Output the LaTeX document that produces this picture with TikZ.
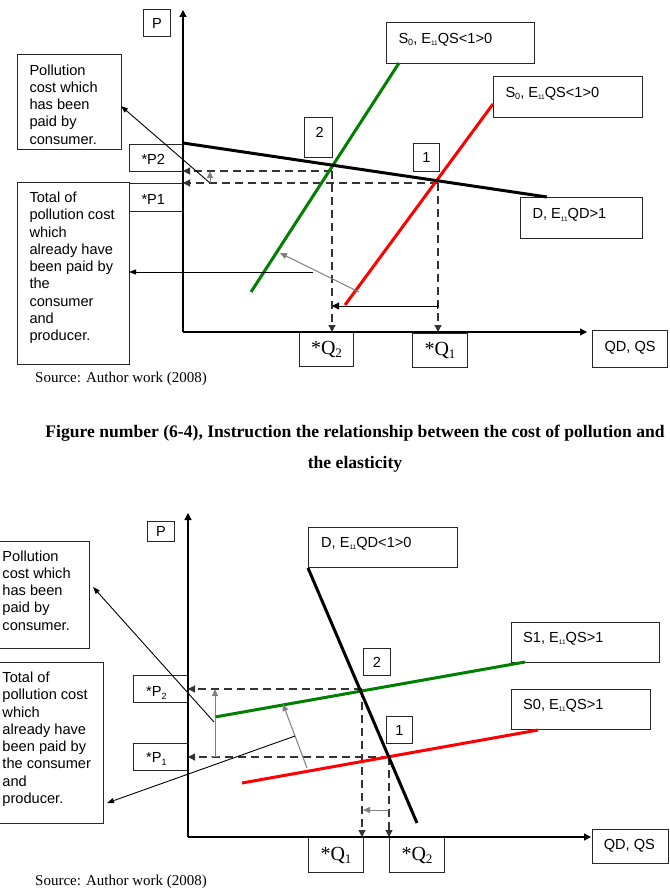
\documentclass[tikz,border=0pt]{standalone}
\usepackage{fontspec}
\setmainfont{Liberation Serif}
\setsansfont{Liberation Sans}
\usetikzlibrary{arrows.meta}
\definecolor{sgreen}{RGB}{0,128,0}
\definecolor{sred}{RGB}{255,0,0}
% box text: width, height, left inset, top pad, text
\newcommand{\bxt}[5]{\parbox[c][#2][t]{#1}{\fontsize{14.6}{17.3}\selectfont\raggedright\leftskip=#3\relax\vspace*{#4}#5\par}}
\newcommand{\sbs}[1]{\raisebox{-0.35ex}{\fontsize{6.5}{6.5}\selectfont #1}}
\newcommand{\sbz}[1]{\raisebox{-0.35ex}{\fontsize{9}{9}\selectfont #1}}
\newcommand{\qlab}[1]{{\rmfamily\fontsize{20}{20}\selectfont *Q\raisebox{-0.35ex}{\fontsize{13}{13}\selectfont #1}}}
\begin{document}
\begin{tikzpicture}[x=1pt,y=-1pt,
  font=\sffamily\fontsize{14.6}{17.3}\selectfont,
  bx/.style={draw=black!85, line width=1pt, inner sep=0pt, anchor=north west},
  cbx/.style={bx, align=center},
  axisline/.style={line width=1.3pt, -{Triangle[length=7pt,width=7pt]}},
  curve/.style={line width=3pt},
  dsh/.style={draw=black!80, line width=1.2pt, dash pattern=on 8pt off 5pt, -{Triangle[length=7pt,width=7pt]}},
  ptr/.style={line width=0.9pt, -{Triangle[length=7pt,width=5pt]}},
  gptr/.style={draw=gray, line width=1pt, -{Triangle[length=7pt,width=6pt]}},
  srcfont/.style={font=\rmfamily\fontsize{15}{18}\selectfont},
  ]
\fill[white] (0,0) rectangle (669,888);
\clip (0,0) rectangle (669,888);

% ================= TOP DIAGRAM =================
\node[cbx, minimum width=27pt, minimum height=27pt] (pt1) at (143,9) {P};
\node[bx] (pol1) at (17,54) {\bxt{104pt}{95pt}{12pt}{10pt}{Pollution\\cost which\\has been\\paid by\\consumer.}};
\node[bx] (p2t) at (129,144) {\bxt{54pt}{27pt}{12pt}{10pt}{*P2}};
\node[bx] (p1t) at (129,183) {\bxt{54pt}{28pt}{12pt}{11pt}{*P1}};
\node[bx] (tot1) at (17,182) {\bxt{112pt}{182pt}{12pt}{9.4pt}{Total of\\pollution cost\\which\\already have\\been paid by\\the\\consumer\\and\\producer.}};
\node[bx] (n2t) at (304,117) {\bxt{28pt}{40pt}{11pt}{10pt}{2}};
\node[cbx, minimum width=26pt, minimum height=28pt] (n1t) at (413,143) {1};
\node[bx] (sgt) at (386,22) {\bxt{148pt}{41pt}{12pt}{10.5pt}{S\sbz{0}, E\sbs{11}QS<1>0}};
\node[bx] (srt) at (493,76) {\bxt{149pt}{41pt}{12pt}{10.5pt}{S\sbz{0}, E\sbs{11}QS<1>0}};
\node[bx] (dt) at (520,197) {\bxt{122pt}{41pt}{12pt}{11pt}{D, E\sbs{11}QD>1}};
\node[bx] (qdt) at (592,330) {\bxt{75pt}{37pt}{12pt}{10.5pt}{QD, QS}};
\node[cbx, minimum width=54pt, minimum height=34pt] (q2t) at (299,332) {\qlab{2}};
\node[cbx, minimum width=55pt, minimum height=34pt] (q1t) at (412,333) {\qlab{1}};

\coordinate (O1) at (183,332);
\coordinate (Y1) at (183,10);
\coordinate (X1) at (587,332);
\coordinate (D1a) at (183,143);
\coordinate (D1b) at (547,197);
\coordinate (G1a) at (251,292);
\coordinate (G1b) at (399,63);
\coordinate (R1a) at (345,305);
\coordinate (R1b) at (493,104);
\coordinate (E2t) at (332,171);
\coordinate (E1t) at (438,183);
\coordinate (P2a) at (183,171);
\coordinate (P1a) at (183,183);
\coordinate (Q2a) at (332,332);
\coordinate (Q1a) at (438,332);
\coordinate (HA) at (438,306);
\coordinate (HB) at (332,306);
\coordinate (GA) at (359,292);
\coordinate (GB) at (280,253);
\coordinate (TA) at (313,272);
\coordinate (TB) at (129,272);
\coordinate (PA) at (210,183);
\coordinate (PB) at (121,106);
\coordinate (SA) at (210,171);

\draw[dsh] (E2t) -- (P2a);
\draw[dsh] (E2t) -- (Q2a);
\draw[dsh] (E1t) -- (P1a);
\draw[dsh] (E1t) -- (Q1a);
\draw[axisline] (O1) -- (Y1);
\draw[axisline] (O1) -- (X1);
\draw[curve, sgreen] (G1a) -- (G1b);
\draw[curve, sred] (R1a) -- (R1b);
\draw[curve, black] (D1a) -- (D1b);
\draw[line width=1pt, {Bar[width=6pt]}-{Triangle[length=7pt,width=7pt]}] (HA) -- (HB);
\draw[gptr] (GA) -- (GB);
\draw[ptr] (TA) -- (TB);
\draw[ptr] (PA) -- (PB);
\draw[gptr] (PA) -- (SA);

\node[srcfont, anchor=base west, inner sep=0pt] (src1) at (35,382) {Source: Author work (2008)};
\node[anchor=north, align=center, inner sep=0pt, font=\rmfamily\bfseries\fontsize{17.6}{31}\selectfont] (cap) at (355,425) {Figure number (6-4), Instruction the relationship between the cost of pollution and\\the elasticity};

% ================= BOTTOM DIAGRAM =================
\node[cbx, minimum width=27pt, minimum height=20pt] (pt2) at (147,521) {P};
\node[bx] (pol2) at (-10,541) {\bxt{99pt}{107pt}{12pt}{9pt}{Pollution\\cost which\\has been\\paid by\\consumer.}};
\node[bx] (tot2) at (-10,662) {\bxt{113pt}{161pt}{12pt}{9.4pt}{Total of\\pollution cost\\which\\already have\\been paid by\\the consumer\\and\\producer.}};
\node[bx] (p2b) at (133,675) {\bxt{55pt}{27pt}{12.7pt}{11pt}{*P\sbz{2}}};
\node[bx] (p1b) at (133,743) {\bxt{55pt}{27pt}{12.7pt}{9pt}{*P\sbz{1}}};
\node[bx] (db) at (308,527) {\bxt{149pt}{40pt}{12.7pt}{9.5pt}{D, E\sbs{11}QD<1>0}};
\node[bx] (s1b) at (511,622) {\bxt{148pt}{40pt}{11.7pt}{9.5pt}{S1, E\sbs{11}QS>1}};
\node[bx] (s0b) at (511,689) {\bxt{139pt}{40pt}{11.7pt}{9.5pt}{S0, E\sbs{11}QS>1}};
\node[cbx, minimum width=27pt, minimum height=27pt] (n2b) at (363,648) {2};
\node[cbx, minimum width=26pt, minimum height=27pt] (n1b) at (386,716) {1};
\node[bx] (qdb) at (592,829) {\bxt{76pt}{34pt}{11.3pt}{10.2pt}{QD, QS}};
\node[cbx, minimum width=55pt, minimum height=35pt] (q1b) at (308,837) {\qlab{1}};
\node[cbx, minimum width=55pt, minimum height=35pt] (q2b) at (389,837) {\qlab{2}};

\coordinate (O2) at (188,837);
\coordinate (Y2) at (188,513);
\coordinate (X2) at (591,837);
\coordinate (D2a) at (308,568);
\coordinate (D2b) at (417,823);
\coordinate (G2a) at (215,717);
\coordinate (G2b) at (525,662);
\coordinate (R2a) at (242,783);
\coordinate (R2b) at (538,730);
\coordinate (F2) at (362,689);
\coordinate (F1) at (389,757);
\coordinate (P2b) at (188,689);
\coordinate (P1b) at (188,757);
\coordinate (Q1b) at (362,837);
\coordinate (Q2b) at (389,837);
\coordinate (HH1) at (389,810);
\coordinate (HH2) at (363,810);
\coordinate (VV1) at (215,757);
\coordinate (VV2) at (215,689);
\coordinate (SL1) at (307,768);
\coordinate (SL2) at (283,704);
\coordinate (BA1) at (214,722);
\coordinate (BA2) at (93,587);
\coordinate (BB1) at (295,736);
\coordinate (BB2) at (107,803);

\draw[dsh] (F2) -- (P2b);
\draw[dsh] (F2) -- (Q1b);
\draw[dsh] (F1) -- (P1b);
\draw[dsh] (F1) -- (Q2b);
\draw[axisline] (O2) -- (Y2);
\draw[axisline] (O2) -- (X2);
\draw[curve, sgreen] (G2a) -- (G2b);
\draw[curve, sred] (R2a) -- (R2b);
\draw[curve, black] (D2a) -- (D2b);
\draw[gptr] (HH1) -- (HH2);
\draw[draw=gray, line width=1pt, {Bar[width=8pt]}-{Triangle[length=7pt,width=6pt]}] (VV1) -- (VV2);
\draw[gptr] (SL1) -- (SL2);
\draw[ptr] (BA1) -- (BA2);
\draw[ptr] (BB1) -- (BB2);

\node[srcfont, anchor=base west, inner sep=0pt] (src2) at (35,885) {Source: Author work (2008)};
\end{tikzpicture}
\end{document}
